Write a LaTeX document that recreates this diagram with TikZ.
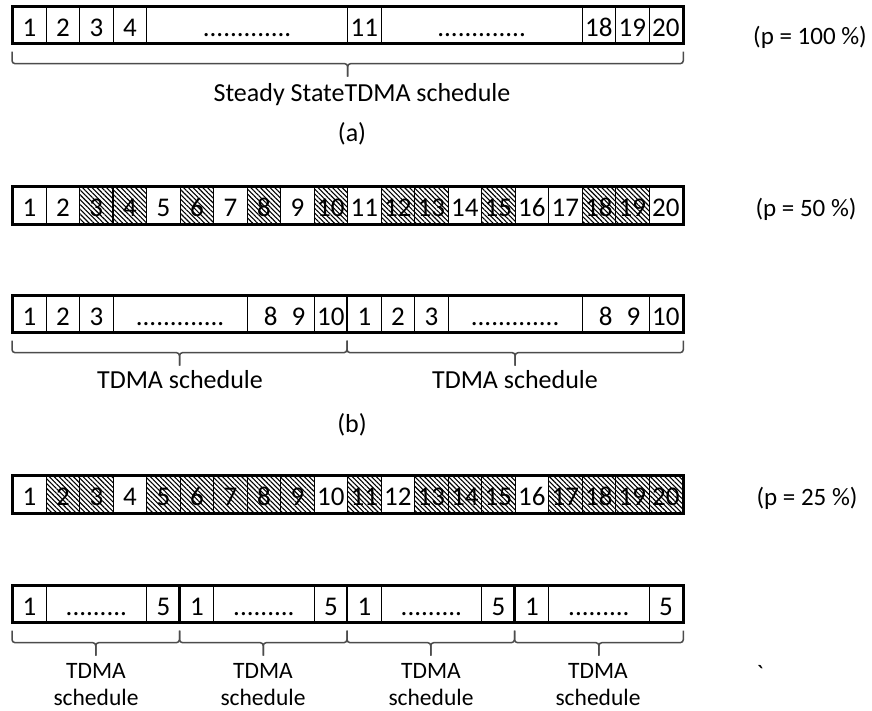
\documentclass[tikz,border=0pt]{standalone}
\usepackage{fontspec}
\setmainfont{Carlito}
\usetikzlibrary{patterns.meta,calc}

\tikzset{
  cell/.style={draw=black, line width=1.3pt, minimum height=36pt, inner sep=0pt,
               text height=22.5pt, text depth=0pt, anchor=west,
               font=\fontsize{27}{32}\selectfont},
  plain/.style={fill=white},
  hatch/.style={pattern={Lines[angle=-45,distance=3.4pt,line width=1.1pt]}},
  frame/.style={draw=black, line width=3pt},
  divider/.style={draw=black, line width=2.6pt},
  brc/.style={draw=black!70, line width=1.5pt, rounded corners=3pt},
  lbl/.style={font=\fontsize{26}{31}\selectfont, anchor=base, inner sep=0pt},
  plbl/.style={font=\fontsize{25}{30}\selectfont, anchor=base, inner sep=0pt},
  small/.style={font=\fontsize{23.5}{27}\selectfont, align=center, anchor=base, inner sep=0pt}
}

\newcommand\schedbrace[3]{%
  \coordinate (#3a) at ($(#1)+(0,8)$);
  \coordinate (#3b) at ($(#2)+(0,8)$);
  \coordinate (#3m) at ($($(#3a)!0.5!(#3b)$)+(0,12)$);
  \coordinate (#3t) at ($(#3m)+(0,13)$);
  \draw[brc] (#3a) |- (#3m) -- (#3t);
  \draw[brc] (#3b) |- (#3m) -- (#3t);
}

\begin{document}
\begin{tikzpicture}[x=1pt,y=-1pt]
\fill[white] (0,0) rectangle (872,711);
\useasboundingbox (0,0) rectangle (872,711);

% ---------- bar 1 ----------
\foreach \s/\n/\t in {1/1/1,2/1/2,3/1/3,4/1/4,5/6/{.............},11/1/11,12/6/{.............},18/1/18,19/1/19,20/1/20}{
  \pgfmathsetmacro\w{\n*33.5}
  \node[cell,plain,minimum width=\w pt] (b1c\s) at ({12+(\s-1)*33.5},25) {\t};
}
\draw[frame] (b1c1.north west) rectangle (b1c20.south east);
\schedbrace{b1c1.south west}{b1c20.south east}{brA}
\node[lbl] (labA) at (362,102) {Steady StateTDMA schedule};
\node[lbl] (capA) at (352,142) {(a)};
\node[plbl] (p100) at (810,45) {(p = 100 \%)};

% ---------- bar 2 ----------
\foreach \s/\st in {1/plain,2/plain,3/hatch,4/hatch,5/plain,6/hatch,7/plain,8/hatch,9/plain,10/hatch,
                    11/plain,12/hatch,13/hatch,14/plain,15/hatch,16/plain,17/plain,18/hatch,19/hatch,20/plain}{
  \node[cell,\st,minimum width=33.5pt] (b2c\s) at ({12+(\s-1)*33.5},205.5) {\s};
}
\draw[frame] (b2c1.north west) rectangle (b2c20.south east);
\node[plbl] (p50) at (806,217) {(p = 50 \%)};

% ---------- bar 3 ----------
\foreach \s/\n/\t in {1/1/1,2/1/2,3/1/3,4/4/{.............},8/2/{\hspace{8pt}8\hspace{14pt}9},10/1/10,
                      11/1/1,12/1/2,13/1/3,14/4/{.............},18/2/{\hspace{8pt}8\hspace{14pt}9},20/1/10}{
  \pgfmathsetmacro\w{\n*33.5}
  \node[cell,plain,minimum width=\w pt] (b3c\s) at ({12+(\s-1)*33.5},314) {\t};
}
\draw[frame] (b3c1.north west) rectangle (b3c20.south east);
\draw[divider] (b3c11.north west) -- (b3c11.south west);
\schedbrace{b3c1.south west}{b3c11.south west}{brB}
\schedbrace{b3c11.south west}{b3c20.south east}{brC}
\node[lbl] (labB) at (180,388) {TDMA schedule};
\node[lbl] (labC) at (515,388) {TDMA schedule};
\node[lbl] (capB) at (352,432) {(b)};

% ---------- bar 4 ----------
\foreach \s/\st in {1/plain,2/hatch,3/hatch,4/plain,5/hatch,6/hatch,7/hatch,8/hatch,9/hatch,10/plain,
                    11/hatch,12/plain,13/hatch,14/hatch,15/hatch,16/plain,17/hatch,18/hatch,19/hatch,20/hatch}{
  \node[cell,\st,minimum width=33.5pt] (b4c\s) at ({12+(\s-1)*33.5},494.5) {\s};
}
\draw[frame] (b4c1.north west) rectangle (b4c20.south east);
\node[plbl] (p25) at (807,505) {(p = 25 \%)};

% ---------- bar 5 ----------
\foreach \s/\n/\t in {1/1/1,2/3/{.........},5/1/5,6/1/1,7/3/{.........},10/1/5,
                      11/1/1,12/3/{.........},15/1/5,16/1/1,17/3/{.........},20/1/5}{
  \pgfmathsetmacro\w{\n*33.5}
  \node[cell,plain,minimum width=\w pt] (b5c\s) at ({12+(\s-1)*33.5},604) {\t};
}
\draw[frame] (b5c1.north west) rectangle (b5c20.south east);
\draw[divider] (b5c6.north west) -- (b5c6.south west);
\draw[divider] (b5c11.north west) -- (b5c11.south west);
\draw[divider] (b5c16.north west) -- (b5c16.south west);
\schedbrace{b5c1.south west}{b5c6.south west}{brD}
\schedbrace{b5c6.south west}{b5c11.south west}{brE}
\schedbrace{b5c11.south west}{b5c16.south west}{brF}
\schedbrace{b5c16.south west}{b5c20.south east}{brG}
\node[small] (labD) at (96,705) {TDMA\\schedule};
\node[small] (labE) at (263,705) {TDMA\\schedule};
\node[small] (labF) at (431,705) {TDMA\\schedule};
\node[small] (labG) at (598,705) {TDMA\\schedule};
\node[plbl] (tick) at (760,682) {\textasciigrave};
\end{tikzpicture}
\end{document}
